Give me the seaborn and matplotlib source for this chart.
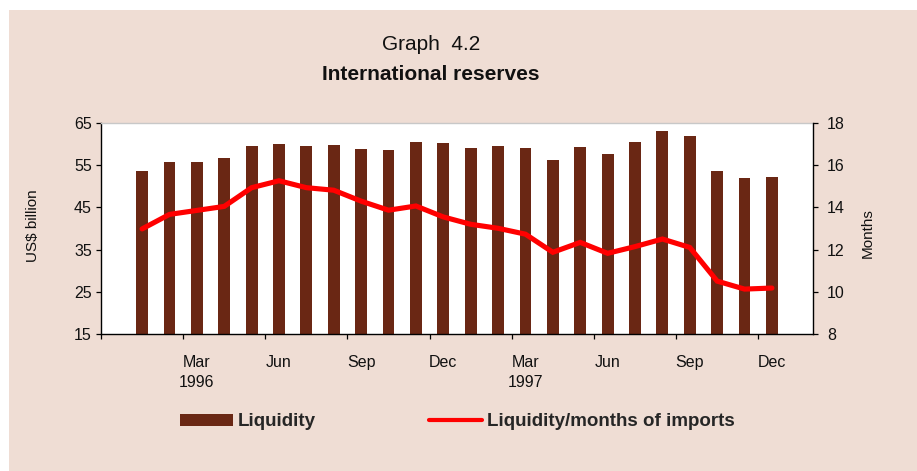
import numpy as np
import pandas as pd
import matplotlib
matplotlib.use("Agg")
import matplotlib.pyplot as plt
from matplotlib.patches import Rectangle, Patch
from matplotlib.lines import Line2D
import seaborn as sns

# Monthly data, January 1996 - December 1997
months = ["Jan", "Feb", "Mar", "Apr", "May", "Jun",
          "Jul", "Aug", "Sep", "Oct", "Nov", "Dec"] * 2
years = [1996] * 12 + [1997] * 12
liquidity = [53.7, 55.8, 55.8, 56.8, 59.6, 60.1, 59.6, 59.8, 58.9, 58.7, 60.6, 60.3,
             59.1, 59.6, 59.1, 56.3, 59.4, 57.7, 60.6, 63.2, 62.0, 53.7, 52.0, 52.3]
months_of_imports = [12.98, 13.67, 13.86, 14.05, 14.94, 15.27, 14.94, 14.82, 14.30, 13.87, 14.07, 13.55,
                     13.20, 13.01, 12.73, 11.87, 12.34, 11.82, 12.14, 12.50, 12.10, 10.50, 10.12, 10.17]
labelled_months = ["Mar", "Jun", "Sep", "Dec"]

title_top = "Graph  4.2"
title_main = "International reserves"
left_label = "US$ billion"
right_label = "Months"
legend_labels = ["Liquidity", "Liquidity/months of imports"]

BG = "#EFDDD4"
BAR = "#6A2714"
LINE = "#FF0000"

sns.set_theme(style="white")
plt.rcParams["font.family"] = ["Liberation Sans", "DejaVu Sans"]

df = pd.DataFrame({
    "pos": np.arange(1, len(liquidity) + 1),
    "month": months,
    "year": years,
    "liquidity": liquidity,
    "ratio": months_of_imports,
})

W, H = 917, 471
fig = plt.figure(figsize=(W / 100, H / 100), dpi=100, facecolor=BG)
# thin white margin on the left and top
fig.add_artist(Rectangle((0, 0), 9 / W, 1, transform=fig.transFigure,
                         facecolor="white", edgecolor="none", zorder=-1))
fig.add_artist(Rectangle((0, 1 - 10 / H), 1, 10 / H, transform=fig.transFigure,
                         facecolor="white", edgecolor="none", zorder=-1))

ax = fig.add_axes([101 / W, 1 - 333.7 / H, 712 / W, 210.4 / H])
ax.set_facecolor("white")
sns.barplot(data=df, x="pos", y="liquidity", native_scale=True, color=BAR,
            saturation=1, width=0.43, errorbar=None, edgecolor="none", ax=ax)

ax2 = ax.twinx()
sns.lineplot(data=df, x="pos", y="ratio", color=LINE, lw=3.7, ax=ax2,
             legend=False)
ax2.lines[0].set_solid_joinstyle("miter")

ax.set_xlim(-0.5, len(liquidity) + 1.5)
ax.set_ylim(15, 65)
ax.set_yticks(np.arange(15, 66, 10))
ax2.set_ylim(8, 18)
ax2.set_yticks(np.arange(8, 19, 2))

# quarter boundaries as tick marks, month names centred under the bars
ax.set_xticks(np.arange(-0.5, len(liquidity) + 0.5, 3))
ax.set_xticklabels([])
lab_pos, lab_txt = [], []
for p, m, y in zip(df["pos"], df["month"], df["year"]):
    if m in labelled_months:
        lab_pos.append(p)
        lab_txt.append(f"{m}\n{y}" if m == "Mar" else m)
ax.set_xticks(lab_pos, minor=True)
ax.set_xticklabels(lab_txt, minor=True, linespacing=1.45)

for a in (ax, ax2):
    a.set_xlabel("")
    a.set_ylabel("")
    a.grid(False)

ax.tick_params(axis="x", which="major", bottom=True, direction="out",
               length=3.6, width=0.9, color="black")
ax.tick_params(axis="x", which="minor", bottom=True, length=0, pad=15,
               labelsize=11.5, labelcolor="#111111")
ax.tick_params(axis="y", left=True, direction="out", length=3.6, width=0.9,
               color="black", pad=3, labelsize=11.5, labelcolor="#111111")
ax2.tick_params(axis="y", right=True, direction="out", length=3.6, width=0.9,
                color="black", pad=6.5, labelsize=11.5, labelcolor="#111111")

for s in ("left", "bottom"):
    ax.spines[s].set_color("black")
    ax.spines[s].set_linewidth(1.0)
ax.spines["top"].set_color("#C8C8C8")
ax.spines["top"].set_linewidth(1.0)
ax.spines["right"].set_visible(False)
for s in ("left", "top", "bottom"):
    ax2.spines[s].set_visible(False)
ax2.spines["right"].set_color("black")
ax2.spines["right"].set_linewidth(1.0)

fig.text(33 / W, 1 - 226 / H, left_label, rotation=90, ha="center", va="center",
         fontsize=11, color="#111111")
fig.text(868 / W, 1 - 233 / H, right_label, rotation=90, ha="center", va="center",
         fontsize=11, color="#111111")

fig.text(431 / W, 1 - 44 / H, title_top, ha="center", va="center",
         fontsize=15, color="#111111")
fig.text(431 / W, 1 - 74 / H, title_main, ha="center", va="center",
         fontsize=15, fontweight="bold", color="#111111")

handles = [Patch(facecolor=BAR, edgecolor="none"),
           Line2D([], [], color=LINE, lw=3)]
fig.legend(handles, legend_labels, loc="center left",
           bbox_to_anchor=(180 / W, 1 - 422 / H), ncol=2, frameon=False,
           prop=dict(weight="bold", size=13.5), handlelength=2.83,
           handleheight=0.6, handletextpad=0.27, columnspacing=6.0,
           borderpad=0, borderaxespad=0)

fig.savefig("out.png", dpi=100, facecolor=BG)
